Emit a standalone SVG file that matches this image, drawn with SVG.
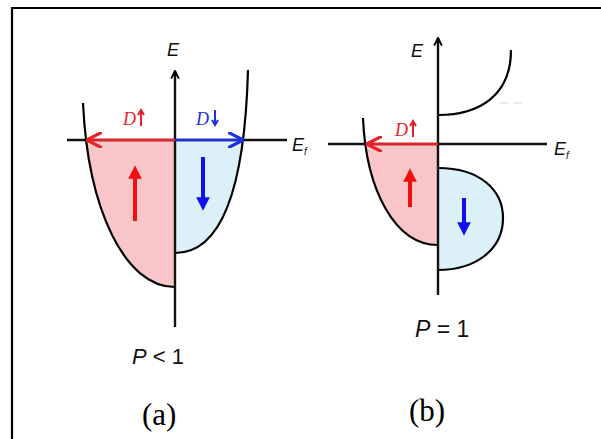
<svg xmlns="http://www.w3.org/2000/svg" width="601" height="439" viewBox="0 0 601 439">
<style>
.ln{fill:none;stroke:#000;stroke-width:2.2}
.ax{fill:none;stroke:#111;stroke-width:2.4}
.lbl{font-family:"Liberation Sans",Arial,sans-serif;fill:#111}
.cap{font-family:"Liberation Serif","Times New Roman",serif;fill:#000;font-size:31px}
.pink{fill:#f8c6c8}
.blue{fill:#dcf0fa}
</style>
<defs>
<clipPath id="belowA"><rect x="0" y="140" width="300" height="300"/></clipPath>
<clipPath id="belowB"><rect x="300" y="144" width="300" height="300"/></clipPath>
<marker id="ah" viewBox="0 0 10 10" refX="9" refY="5" markerWidth="4" markerHeight="4" orient="auto" markerUnits="strokeWidth"><path d="M1,1 L9,5 L1,9" fill="none" stroke="#000" stroke-width="2"/></marker>
<marker id="ahr" viewBox="0 0 10 10" refX="9" refY="5" markerWidth="6" markerHeight="6" orient="auto" markerUnits="strokeWidth"><path d="M0,0 L10,5 L0,10" fill="none" stroke="#e8202a" stroke-width="2"/></marker>
<marker id="ahb" viewBox="0 0 10 10" refX="9" refY="5" markerWidth="6" markerHeight="6" orient="auto" markerUnits="strokeWidth"><path d="M0,0 L10,5 L0,10" fill="none" stroke="#2030e0" stroke-width="2"/></marker>
<marker id="bigr" viewBox="0 0 10 10" refX="5" refY="5" markerWidth="3.4" markerHeight="3.4" orient="auto"><path d="M0,0 L10,5 L0,10 Z" fill="#f01010"/></marker>
<marker id="bigb" viewBox="0 0 10 10" refX="5" refY="5" markerWidth="3.4" markerHeight="3.4" orient="auto"><path d="M0,0 L10,5 L0,10 Z" fill="#1010f0"/></marker>
</defs>
<rect width="601" height="439" fill="#fff"/>
<path d="M12,439 L12,8 L601,8" fill="none" stroke="#000" stroke-width="2.2"/>

<g id="panel-a">
  <g id="a-fills">
    <path class="pink" clip-path="url(#belowA)" d="M83,103 C88,210 125,287 175,287 L175,103 Z"/>
    <path class="blue" clip-path="url(#belowA)" d="M248,70 C245,180 225,253 175,253 L175,70 Z"/>
  </g>
  <g id="a-curves">
    <path class="ln" d="M83,103 C88,210 125,287 175,287"/>
    <path class="ln" d="M248,70 C245,180 225,253 175,253"/>
  </g>
  <g id="a-axes">
    <line class="ax" x1="67" y1="140" x2="287" y2="140"/>
    <line class="ax" x1="175" y1="327" x2="175" y2="71" marker-end="url(#ah)"/>
    <text class="lbl" x="167" y="56" font-size="18" font-style="italic">E</text>
    <text class="lbl" x="292" y="151" font-size="18" font-style="italic">E<tspan font-size="10" dy="4">f</tspan></text>
  </g>
  <g id="a-dos">
    <line x1="175" y1="140" x2="88" y2="140" stroke="#e8202a" stroke-width="2.6" marker-end="url(#ahr)"/>
    <line x1="175" y1="140" x2="242" y2="140" stroke="#2030e0" stroke-width="2.6" marker-end="url(#ahb)"/>
    <text x="123" y="125" font-family="Liberation Serif,serif" font-style="italic" font-size="18" fill="#e8202a">D</text>
    <path d="M141,126 L141,112 M138,115 L141,110 L144,115" stroke="#e8202a" stroke-width="2" fill="none"/>
    <text x="196" y="125" font-family="Liberation Serif,serif" font-style="italic" font-size="18" fill="#2030e0">D</text>
    <path d="M215,110 L215,123 M212,120 L215,125 L218,120" stroke="#2030e0" stroke-width="2" fill="none"/>
  </g>
  <g id="a-spins">
    <line x1="135" y1="221" x2="135" y2="172" stroke="#f01010" stroke-width="4" marker-end="url(#bigr)"/>
    <line x1="203" y1="157" x2="203" y2="204" stroke="#1010f0" stroke-width="4" marker-end="url(#bigb)"/>
  </g>
  <text class="lbl" x="132" y="364" font-size="22"><tspan font-style="italic">P</tspan> &lt; 1</text>
  <text class="cap" x="142" y="425">(a)</text>
</g>

<g id="panel-b">
  <g id="b-fills">
    <path class="pink" clip-path="url(#belowB)" d="M363,118 C366,190 395,245 438,245 L438,118 Z"/>
    <path class="blue" d="M438,168 C480,168 503,190 503,218 C503,250 475,270 438,270 Z"/>
  </g>
  <g id="b-curves">
    <path class="ln" d="M363,118 C366,190 395,245 438,245"/>
    <path class="ln" d="M438,168 C480,168 503,190 503,218 C503,250 475,270 438,270"/>
    <path class="ln" d="M438,115 C480,115 511,95 511,50"/>
    <path d="M500,103 L508,103 M513,103 L522,103" stroke="#d6d6d6" stroke-width="1" fill="none"/>
  </g>
  <g id="b-axes">
    <line class="ax" x1="328" y1="144" x2="547" y2="144"/>
    <line class="ax" x1="438" y1="295" x2="438" y2="38" marker-end="url(#ah)"/>
    <text class="lbl" x="411" y="57" font-size="18" font-style="italic">E</text>
    <text class="lbl" x="554" y="155" font-size="18" font-style="italic">E<tspan font-size="10" dy="4">f</tspan></text>
  </g>
  <g id="b-dos">
    <line x1="438" y1="144" x2="368" y2="144" stroke="#e8202a" stroke-width="2.6" marker-end="url(#ahr)"/>
    <text x="395" y="136" font-family="Liberation Serif,serif" font-style="italic" font-size="18" fill="#e8202a">D</text>
    <path d="M413,137 L413,123 M410,126 L413,121 L416,126" stroke="#e8202a" stroke-width="2" fill="none"/>
  </g>
  <g id="b-spins">
    <line x1="410" y1="207" x2="410" y2="175" stroke="#f01010" stroke-width="4" marker-end="url(#bigr)"/>
    <line x1="464" y1="198" x2="464" y2="229" stroke="#1010f0" stroke-width="4" marker-end="url(#bigb)"/>
  </g>
  <text class="lbl" x="415" y="337" font-size="23"><tspan font-style="italic">P</tspan> = 1</text>
  <text class="cap" x="409" y="421">(b)</text>
</g>
</svg>
